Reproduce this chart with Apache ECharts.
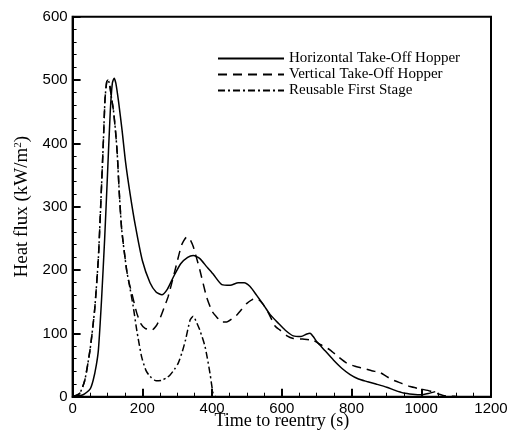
<!DOCTYPE html>
<html lang="en">
<head>
  <meta charset="UTF-8">
  <title>Heat flux</title>
  <style>
    html, body { padding: 0; margin: 0; background: #fff; }
    #demo { width: 508px; height: 432px; }
  </style>
  <script src="https://cdn.jsdelivr.net/npm/echarts@6/dist/echarts.min.js"></script>
</head>
<body>
  <div id="demo"></div>
  <script>
    // Horizontal Take-Off Hopper
    const hTime = [0, 30, 50, 59, 68, 74, 83, 92, 100, 108, 114, 119, 124, 132, 142, 152, 165, 180, 200, 222, 240, 256, 272, 289, 310, 330, 346, 365, 385, 404, 428, 452, 475, 492, 509, 528, 550, 566, 590, 610, 633, 655, 672, 681, 690, 700, 725, 748, 772, 796, 820, 844, 870, 901, 925, 949, 975, 1000, 1020, 1040]
    const hFlux = [0, 3, 12, 26, 50, 74, 153, 250, 350, 450, 495, 503, 495, 465, 420, 370, 320, 270, 215, 180, 165, 161, 170, 189, 210, 220, 223, 218, 205, 193, 177, 176, 180, 180, 174, 160, 143, 130, 116, 105, 96, 95, 99, 100, 95, 87, 72, 58, 45, 35, 28, 24, 20, 15, 10, 6, 4, 3, 5, 8]
    // Vertical Take-Off Hopper
    const vTime = [0, 20, 35, 50, 58, 64, 74, 82, 88, 93, 98, 102, 107, 112, 117, 123, 128, 134, 141, 155, 162, 170, 184, 196, 208, 227, 240, 251, 262, 274, 294, 313, 327, 337, 346, 355, 365, 384, 400, 413, 427, 442, 457, 471, 485, 499, 514, 528, 545, 562, 580, 595, 615, 633, 660, 690, 712, 738, 762, 786, 810, 834, 858, 882, 900, 920, 944, 968, 1000, 1025, 1045, 1063, 1085, 1105]
    const vFlux = [0, 5, 26, 74, 110, 142, 220, 320, 400, 470, 498, 500, 490, 470, 453, 420, 384, 321, 263, 200, 180, 163, 132, 115, 108, 105, 112, 124, 140, 158, 200, 240, 252, 248, 237, 220, 200, 158, 135, 126, 118, 118, 123, 129, 138, 147, 153, 155, 147, 132, 112, 105, 96, 92, 91, 89, 82, 74, 63, 53, 48, 45, 41, 38, 32, 26, 21, 16, 12, 9, 5, 2, 1, 0]
    // Reusable First Stage
    const rTime = [0, 20, 35, 50, 58, 64, 74, 82, 88, 93, 98, 102, 107, 112, 117, 123, 128, 134, 141, 155, 165, 174, 184, 198, 210, 222, 240, 256, 270, 279, 292, 303, 314, 324, 337, 346, 355, 365, 380, 394, 403, 410]
    const rFlux = [0, 5, 26, 74, 110, 142, 220, 320, 400, 470, 498, 500, 490, 470, 453, 420, 384, 321, 263, 200, 170, 142, 105, 63, 42, 32, 25, 26, 30, 34, 43, 53, 70, 90, 121, 127, 118, 105, 79, 37, 5, 0]

    const names = ['Horizontal Take-Off Hopper', 'Vertical Take-Off Hopper', 'Reusable First Stage']
    const xTicks = [0, 1200, 200]
    const yTicks = [0, 600, 100]

    const zip = (xs, ys) => xs.map((x, i) => [x, ys[i]])
    const serif = 'Liberation Serif'
    const sans = 'Liberation Sans'

    const chart = echarts.init(document.getElementById('demo'))

    function lineSeries (name, data, type) {
      return {
        name: name,
        type: 'line',
        data: data,
        symbol: 'none',
        smooth: 0.2,
        lineStyle: { color: '#000', width: 1.5, type: type },
        itemStyle: { color: '#000' }
      }
    }

    const axisCommon = {
      axisLine: { show: true, onZero: false, lineStyle: { color: '#000', width: 2 } },
      axisTick: { show: true, inside: true, length: 8, lineStyle: { color: '#000', width: 2 } },
      minorTick: { show: true, length: 4, lineStyle: { color: '#000', width: 1 } },
      splitLine: { show: false },
      axisLabel: { color: '#000', fontFamily: sans, fontSize: 15, formatter: v => String(v) }
    }

    chart.setOption({
      animation: false,
      grid: {
        left: 72.6, right: 17, top: 16.7, bottom: 35.3,
        containLabel: false,
        outerBoundsMode: 'none',
        show: true, borderColor: '#000', borderWidth: 2
      },
      legend: {
        orient: 'vertical',
        left: 212, top: 46,
        itemWidth: 66, itemHeight: 12, itemGap: 1,
        itemStyle: { opacity: 0 },
        textStyle: { fontFamily: serif, fontSize: 15, color: '#000' },
        data: names
      },
      xAxis: Object.assign({}, axisCommon, {
        type: 'value',
        min: xTicks[0], max: xTicks[1], interval: xTicks[2],
        minorTick: Object.assign({}, axisCommon.minorTick, { splitNumber: 4 }),
        axisLabel: Object.assign({}, axisCommon.axisLabel, { margin: 5 }),
        name: 'Time to reentry (s)',
        nameLocation: 'middle',
        nameGap: 16,
        nameMoveOverlap: false,
        nameTextStyle: { fontFamily: serif, fontSize: 18, color: '#000' }
      }),
      yAxis: Object.assign({}, axisCommon, {
        type: 'value',
        min: yTicks[0], max: yTicks[1], interval: yTicks[2],
        minorTick: Object.assign({}, axisCommon.minorTick, { splitNumber: 5 }),
        axisLabel: Object.assign({}, axisCommon.axisLabel, { margin: 5 }),
        name: 'Heat flux (kW/m{sup|2})',
        nameLocation: 'middle',
        nameGap: 41,
        nameMoveOverlap: false,
        nameRotate: 90,
        nameTextStyle: {
          fontFamily: serif, fontSize: 19, color: '#000',
          rich: { sup: { fontFamily: serif, fontSize: 11, color: '#000', verticalAlign: 'top', padding: [0, 0, 8, 0] } }
        }
      }),
      series: [
        lineSeries(names[0], zip(hTime, hFlux), 'solid'),
        lineSeries(names[1], zip(vTime, vFlux), [9, 6]),
        lineSeries(names[2], zip(rTime, rFlux), [7, 3, 2, 3])
      ]
    })
  </script>
</body>
</html>
